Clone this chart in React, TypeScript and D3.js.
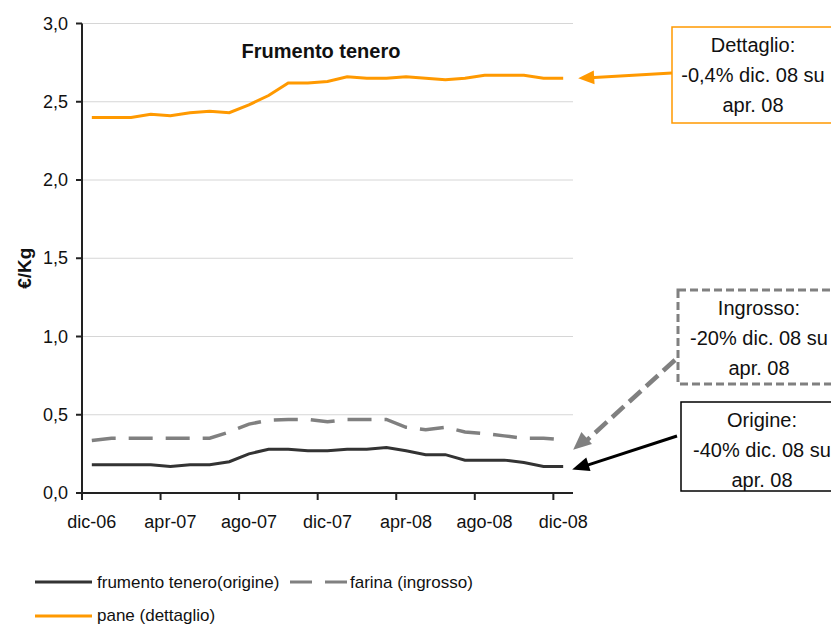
import * as d3 from 'd3'

const months = [
  'dic-06', 'gen-07', 'feb-07', 'mar-07', 'apr-07', 'mag-07', 'giu-07', 'lug-07', 'ago-07', 'set-07', 'ott-07', 'nov-07',
  'dic-07', 'gen-08', 'feb-08', 'mar-08', 'apr-08', 'mag-08', 'giu-08', 'lug-08', 'ago-08', 'set-08', 'ott-08', 'nov-08', 'dic-08',
]
const frumento = [0.18, 0.18, 0.18, 0.18, 0.17, 0.18, 0.18, 0.2, 0.25, 0.28, 0.28, 0.27, 0.27, 0.28, 0.28, 0.29, 0.27, 0.245, 0.245, 0.21, 0.21, 0.21, 0.195, 0.17, 0.17]
const farina = [0.335, 0.35, 0.35, 0.35, 0.35, 0.35, 0.35, 0.39, 0.44, 0.465, 0.47, 0.47, 0.455, 0.47, 0.47, 0.47, 0.42, 0.405, 0.42, 0.39, 0.38, 0.365, 0.35, 0.35, 0.34]
const pane = [2.4, 2.4, 2.4, 2.42, 2.41, 2.43, 2.44, 2.43, 2.48, 2.54, 2.62, 2.62, 2.63, 2.66, 2.65, 2.65, 2.66, 2.65, 2.64, 2.65, 2.67, 2.67, 2.67, 2.65, 2.65]
const yTicks = [0, 0.5, 1, 1.5, 2, 2.5, 3]
const labelEvery = 4

const FONT = '"Liberation Sans", Arial, sans-serif'
const ORANGE = '#ff9900'
const DARK = '#333333'
const GREY = '#808080'

const W = 831, H = 627
const m = { left: 82, right: 573, top: 23.5, bottom: 493 }

const x = d3.scaleBand<string>().domain(months).range([m.left, m.right]).padding(0)
const y = d3.scaleLinear().domain([0, 3]).range([m.bottom, m.top])
const cx = (i: number) => (x(months[i]) as number) + x.bandwidth() / 2
const line = d3.line<number>().x((_, i) => cx(i)).y(d => y(d))
const fmt = (v: number) => d3.format('.1f')(v).replace('.', ',')

function arrowHead(x1: number, y1: number, x2: number, y2: number, len = 16, half = 7) {
  const a = Math.atan2(y2 - y1, x2 - x1)
  const bx = x2 - len * Math.cos(a), by = y2 - len * Math.sin(a)
  const px = -Math.sin(a) * half, py = Math.cos(a) * half
  return `M${x2},${y2}L${bx + px},${by + py}L${bx - px},${by - py}Z`
}

function Note({ x0, y0, w, h, stroke, dash, lines }: { x0: number, y0: number, w: number, h: number, stroke: string, dash?: string, lines: string[] }) {
  const c = x0 + w / 2
  return (
    <g>
      <rect x={x0} y={y0} width={w} height={h} fill="#fff" stroke={stroke} strokeWidth={dash ? 3 : 1.5} strokeDasharray={dash} />
      {lines.map((t, i) => (
        <text key={i} x={c} y={y0 + 25 + i * 30} textAnchor="middle" fontSize={20} fill="#111">{t}</text>
      ))}
    </g>
  )
}

export default function App() {
  const last = months.length - 1
  const tipPane: [number, number] = [cx(last) + 15, y(pane[last])]
  const tipFarina: [number, number] = [cx(last) + 10, y(farina[last]) + 10]
  const tipFrum: [number, number] = [cx(last) + 9, y(frumento[last]) + 3]
  return (
    <svg width={W} height={H} style={{ position: 'absolute', left: 0, top: 0, background: '#fff' }} fontFamily={FONT}>
      {/* grid */}
      {yTicks.filter(t => t > 0).map(t => (
        <line key={t} x1={m.left} x2={m.right} y1={y(t)} y2={y(t)} stroke="#d6d6d6" strokeWidth={1} />
      ))}
      {/* y axis */}
      <line x1={m.left} x2={m.left} y1={m.top} y2={m.bottom} stroke="#222" strokeWidth={2} />
      {yTicks.map(t => (
        <g key={t}>
          <line x1={m.left - 6} x2={m.left} y1={y(t)} y2={y(t)} stroke="#222" strokeWidth={2} />
          <text x={m.left - 14} y={y(t) + 6} textAnchor="end" fontSize={18} fill="#111">{fmt(t)}</text>
        </g>
      ))}
      <text transform={`translate(31,${(m.top + m.bottom) / 2 + 10}) rotate(-90)`} textAnchor="middle" fontSize={19} fontWeight="bold" fill="#111">€/Kg</text>
      {/* x axis */}
      <line x1={m.left} x2={m.right} y1={m.bottom} y2={m.bottom} stroke="#222" strokeWidth={2} />
      {months.map((mo, i) => i % labelEvery === 0 ? (
        <g key={mo}>
          <line x1={x(mo)} x2={x(mo)} y1={m.bottom} y2={m.bottom + 7} stroke="#222" strokeWidth={2} />
          <text x={cx(i)} y={m.bottom + 35} textAnchor="middle" fontSize={18} fill="#111">{mo}</text>
        </g>
      ) : null)}
      {/* series */}
      <path d={line(pane) || ''} fill="none" stroke={ORANGE} strokeWidth={3} />
      <path d={line(farina) || ''} fill="none" stroke={GREY} strokeWidth={3.5} strokeDasharray="24,13" />
      <path d={line(frumento) || ''} fill="none" stroke={DARK} strokeWidth={3} />
      <text x={321} y={58} textAnchor="middle" fontSize={20} fontWeight="bold" fill="#111">Frumento tenero</text>

      {/* annotations */}
      <line x1={672} y1={73} x2={tipPane[0] + 12} y2={tipPane[1] - 0.5} stroke={ORANGE} strokeWidth={3} />
      <path d={arrowHead(672, 73, tipPane[0], tipPane[1])} fill={ORANGE} />
      <Note x0={672} y0={27} w={162} h={96} stroke={ORANGE} lines={['Dettaglio:', '-0,4% dic. 08 su', 'apr. 08']} />

      <line x1={675} y1={360} x2={tipFarina[0] + 12} y2={tipFarina[1] - 8} stroke={GREY} strokeWidth={4.5} strokeDasharray="16,7" />
      <path d={arrowHead(675, 360, tipFarina[0], tipFarina[1], 18, 8)} fill={GREY} />
      <Note x0={678} y0={290} w={162} h={94} stroke={GREY} dash="8,4" lines={['Ingrosso:', '-20% dic. 08 su', 'apr. 08']} />

      <line x1={677} y1={436} x2={tipFrum[0] + 13} y2={tipFrum[1] - 3.5} stroke="#000" strokeWidth={3} />
      <path d={arrowHead(677, 436, tipFrum[0], tipFrum[1], 17, 7)} fill="#000" />
      <Note x0={681} y0={402} w={162} h={89} stroke="#000" lines={['Origine:', '-40% dic. 08 su', 'apr. 08']} />

      {/* legend */}
      <line x1={35} x2={92} y1={582} y2={582} stroke={DARK} strokeWidth={3} />
      <text x={97} y={588} fontSize={17} fill="#111">frumento tenero(origine)</text>
      <line x1={290} x2={347} y1={582} y2={582} stroke={GREY} strokeWidth={3} strokeDasharray="22,13" />
      <text x={350} y={588} fontSize={17} fill="#111">farina (ingrosso)</text>
      <line x1={35} x2={92} y1={616} y2={616} stroke={ORANGE} strokeWidth={3} />
      <text x={97} y={621} fontSize={17} fill="#111">pane (dettaglio)</text>
    </svg>
  )
}
